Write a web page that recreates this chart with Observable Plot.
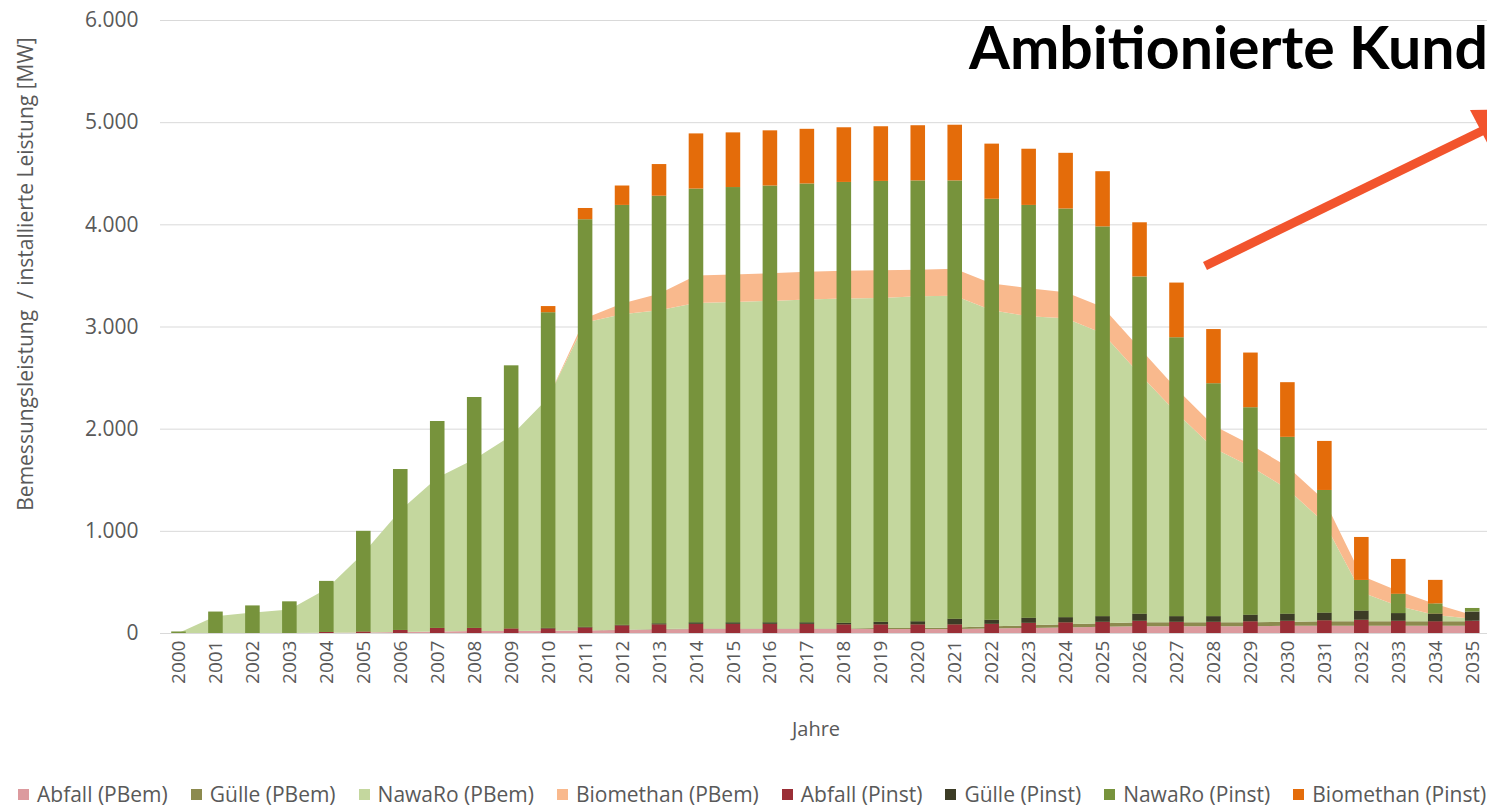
<!DOCTYPE html>
<html><head><meta charset="utf-8">
<script src="https://cdn.jsdelivr.net/npm/d3@7"></script>
<script src="https://cdn.jsdelivr.net/npm/@observablehq/plot@0.6"></script>
<style>
html,body{margin:0;padding:0;background:#fff;overflow:hidden;width:1487px;height:811px;}
#wrap{position:relative;width:1487px;height:811px;overflow:hidden;font-family:"Open Sans",sans-serif;color:#595959;}
#chart{position:absolute;left:0;top:0;}
#ylabel{position:absolute;left:25px;top:274px;transform:translate(-50%,-50%) rotate(-90deg);white-space:nowrap;font-size:21px;color:#595959;}
#xlabel{position:absolute;left:816px;top:728px;transform:translate(-50%,-50%);font-size:20px;color:#595959;}
#title{position:absolute;left:969px;top:12px;font-family:Lato,sans-serif;font-weight:700;font-size:59px;color:#000;white-space:nowrap;line-height:1.2;}
#overlay{position:absolute;left:0;top:0;}
#legend{position:absolute;left:18px;top:782px;display:flex;gap:23px;white-space:nowrap;font-size:21px;line-height:24px;color:#595959;}
#legend .it{display:flex;align-items:center;}
#legend .sw{width:11px;height:11px;margin-right:8px;display:inline-block;}
</style></head><body>
<div id="wrap">
  <div id="chart"></div>
  <div id="ylabel">Bemessungsleistung&nbsp; / installierte Leistung [MW]</div>
  <div id="xlabel">Jahre</div>
  <div id="title">Ambitionierte Kunden</div>
  <svg id="overlay" width="1487" height="811">
    <line x1="1205" y1="266" x2="1484" y2="130" stroke="#f2542d" stroke-width="9"/>
    <polygon points="1470,110 1522,109 1492,152" fill="#f2542d"/>
  </svg>
  <div id="legend"></div>
</div>
<script>
const years = [2000,2001,2002,2003,2004,2005,2006,2007,2008,2009,2010,2011,2012,2013,2014,2015,2016,2017,2018,2019,2020,2021,2022,2023,2024,2025,2026,2027,2028,2029,2030,2031,2032,2033,2034,2035];

// Bemessungsleistung (areas)
const abfallPBem    = [0,0,0,0,2,5,10,15,20,20,22,25,30,35,40,40,40,40,40,40,40,40,45,50,55,60,65,65,65,65,70,70,70,70,70,70];
const guellePBem    = [0,0,0,0,0,0,0,0,0,0,0,0,2,3,5,5,5,5,5,8,10,15,20,25,30,35,40,40,40,40,40,45,45,45,45,45];
const nawaroPBem    = [0,165,200,230,428,775,1190,1505,1680,1910,2278,3015,3088,3122,3185,3195,3205,3220,3230,3232,3245,3245,3095,3025,2995,2840,2430,2050,1705,1525,1300,965,285,150,60,25];
const biomethanPBem = [0,0,0,0,0,0,0,0,0,0,0,40,105,160,270,270,270,270,270,270,260,265,260,275,255,255,255,235,220,215,220,220,160,145,110,35];

// installierte Leistung (bars)
const abfallPinst    = [0,0,0,0,10,15,30,50,50,45,45,55,75,85,90,90,90,90,85,85,85,85,90,100,105,110,120,110,110,115,120,125,130,120,115,120];
const guellePinst    = [0,0,0,0,0,0,0,0,0,0,5,5,5,10,15,15,15,15,15,25,30,55,40,50,50,55,70,55,55,65,70,75,90,75,75,90];
const nawaroPinst    = [15,210,270,310,500,985,1575,2025,2260,2575,3090,3990,4110,4185,4245,4260,4275,4295,4315,4315,4315,4290,4120,4040,4000,3815,3300,2730,2280,2030,1730,1200,300,190,100,35];
const biomethanPinst = [0,0,0,0,0,0,0,0,0,0,60,110,190,310,540,535,540,535,535,535,540,545,540,550,545,540,530,535,530,535,535,480,420,340,230,0];

const pbemNames  = ["Abfall (PBem)","Gülle (PBem)","NawaRo (PBem)","Biomethan (PBem)"];
const pinstNames = ["Abfall (Pinst)","Gülle (Pinst)","NawaRo (Pinst)","Biomethan (Pinst)"];
const pbemColors  = ["#dc9a9e","#8c8a4e","#c4d79e","#f9b98d"];
const pinstColors = ["#9a2e36","#3c3c26","#77933c","#e46c0a"];
const yTicks = [0,1000,2000,3000,4000,5000,6000];

function stackRows(arrays, names) {
  const rows = [];
  years.forEach((yr, i) => {
    let acc = 0;
    arrays.forEach((arr, k) => {
      const v = arr[i];
      rows.push({year: yr, series: names[k], y1: acc, y2: acc + v});
      acc += v;
    });
  });
  return rows;
}
const areaRows = stackRows([abfallPBem, guellePBem, nawaroPBem, biomethanPBem], pbemNames);
const barRows  = stackRows([abfallPinst, guellePinst, nawaroPinst, biomethanPinst], pinstNames);

const halfBar = 0.197;
const fmt = d => d.toLocaleString("de-DE");

const chart = Plot.plot({
  width: 1487,
  height: 743,
  marginTop: 20,
  marginBottom: 110,
  marginLeft: 160,
  marginRight: 0,
  style: {fontFamily: "'Open Sans', sans-serif", fontSize: "19px", color: "#595959", background: "transparent"},
  x: {type: "linear", domain: [1999.5, 2035.4], ticks: years, tickFormat: d => String(d), tickRotate: -90, tickSize: 0, tickPadding: 7, label: null},
  y: {domain: [0, 6000], ticks: yTicks, tickFormat: fmt, tickSize: 0, tickPadding: 22, label: null},
  color: {domain: [...pbemNames, ...pinstNames], range: [...pbemColors, ...pinstColors]},
  marks: [
    Plot.ruleY(yTicks, {stroke: "#d9d9d9", strokeWidth: 1}),
    Plot.area(areaRows, {x1: "year", y1: "y1", y2: "y2", z: "series", fill: "series", curve: "linear"}),
    Plot.rect(barRows, {x1: d => d.year - halfBar, x2: d => d.year + halfBar, y1: "y1", y2: "y2", fill: "series"})
  ]
});
chart.querySelectorAll('[aria-label^="y-axis"] text').forEach(t => t.setAttribute("font-size", "21px"));
chart.querySelectorAll('[aria-label^="y-axis"]').forEach(g => g.setAttribute("font-size", "21px"));
document.getElementById("chart").appendChild(chart);

const legend = document.getElementById("legend");
[...pbemNames, ...pinstNames].forEach((n, i) => {
  const c = [...pbemColors, ...pinstColors][i];
  const it = document.createElement("span");
  it.className = "it";
  it.innerHTML = `<span class="sw" style="background:${c}"></span>${n}`;
  legend.appendChild(it);
});
</script>
</body></html>
